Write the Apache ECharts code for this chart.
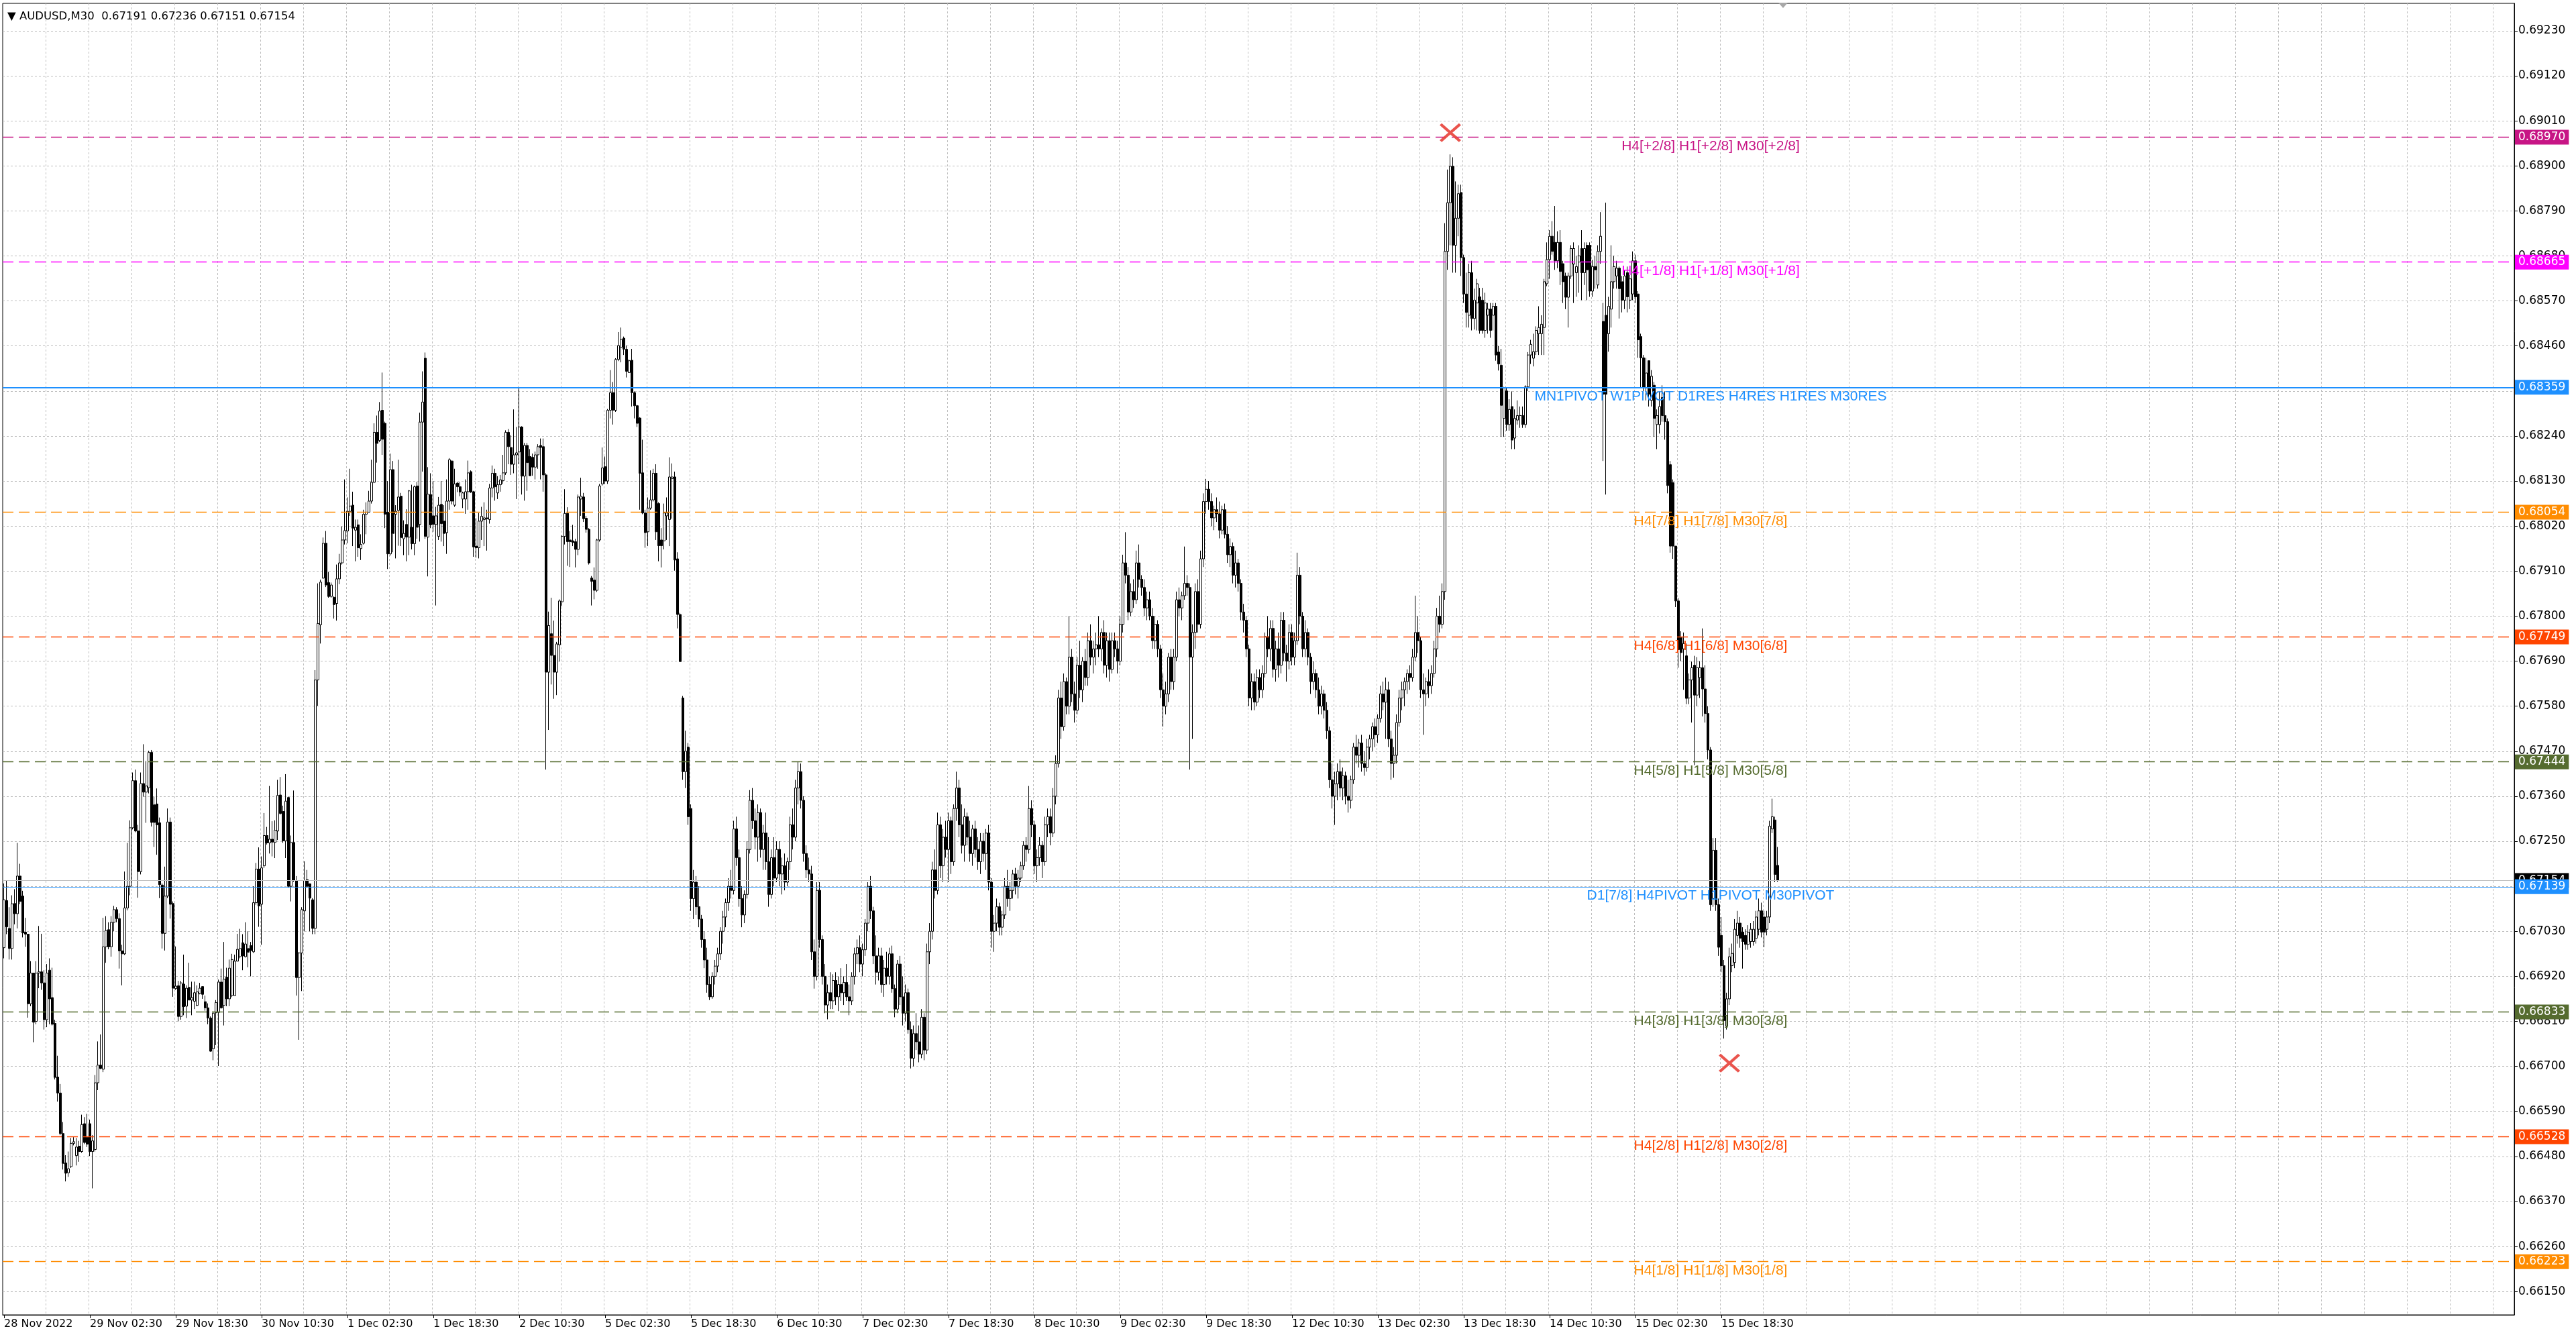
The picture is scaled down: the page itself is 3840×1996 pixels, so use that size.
<!DOCTYPE html>
<html><head><meta charset="utf-8">
<script src="https://cdn.jsdelivr.net/npm/echarts@6/dist/echarts.min.js"></script>
<style>html,body{margin:0;padding:0;background:#fff}#c{width:3840px;height:1996px}</style>
</head><body><div id="c"></div><script>
const symbolName = 'AUDUSD,M30';
const timeLabels = ['28 Nov 2022','29 Nov 02:30','29 Nov 18:30','30 Nov 10:30','1 Dec 02:30','1 Dec 18:30','2 Dec 10:30','5 Dec 02:30','5 Dec 18:30','6 Dec 10:30','7 Dec 02:30','7 Dec 18:30','8 Dec 10:30','9 Dec 02:30','9 Dec 18:30','12 Dec 10:30','13 Dec 02:30','13 Dec 18:30','14 Dec 10:30','15 Dec 02:30','15 Dec 18:30'];
const barsPerLabel = 32;
const barsPerGrid = 16;
const totalSlots = 936;
const priceTicks = [0.66150,0.66260,0.66370,0.66480,0.66590,0.66700,0.66810,0.66920,0.67030,0.67140,0.67250,0.67360,0.67470,0.67580,0.67690,0.67800,0.67910,0.68020,0.68130,0.68240,0.68350,0.68460,0.68570,0.68680,0.68790,0.68900,0.69010,0.69120,0.69230];
const priceLabels = [0.66150,0.66260,0.66370,0.66480,0.66590,0.66700,0.66810,0.66920,0.67030,0.67250,0.67360,0.67470,0.67580,0.67690,0.67800,0.67910,0.68020,0.68130,0.68240,0.68460,0.68570,0.68680,0.68790,0.68900,0.69010,0.69120,0.69230];
const levelPrices = [0.68970,0.68665,0.68359,0.68054,0.67749,0.67444,0.67139,0.66833,0.66528,0.66223];
const levelNames = ['H4[+2/8] H1[+2/8] M30[+2/8]','H4[+1/8] H1[+1/8] M30[+1/8]','MN1PIVOT W1PIVOT D1RES H4RES H1RES M30RES','H4[7/8] H1[7/8] M30[7/8]','H4[6/8] H1[6/8] M30[6/8]','H4[5/8] H1[5/8] M30[5/8]','D1[7/8] H4PIVOT H1PIVOT M30PIVOT','H4[3/8] H1[3/8] M30[3/8]','H4[2/8] H1[2/8] M30[2/8]','H4[1/8] H1[1/8] M30[1/8]'];
const levelColors = ['#C71585','#FF00FF','#1E90FF','#FF8C00','#FF4500','#556B2F','#1E90FF','#556B2F','#FF4500','#FF8C00'];
const levelSolid = [false,false,true,false,false,false,true,false,false,false];
const levelWidths = [1.4,1.4,2,1.4,1.4,1.4,1.2,1.4,1.4,1.4];
const levelTextBar = 636;
const bidPrice = 0.67154;
const crossBars = [539, 643];
const crossPrices = [0.68981, 0.66708];
const shiftMarkBar = 663;
// rows: [open, high, low, close]
const ohlc = [
[0.66990,0.67147,0.66964,0.67107],[0.67105,0.67154,0.67023,0.67041],[0.67037,0.67089,0.66961,0.66988],[0.66988,0.67118,0.66961,0.67097],[0.67098,0.67133,0.67047,0.67073],[0.67073,0.67246,0.67037,0.67165],
[0.67165,0.67195,0.67096,0.67103],[0.67116,0.67129,0.67015,0.67026],[0.67028,0.67063,0.66992,0.67023],[0.67023,0.67023,0.66819,0.66853],[0.66853,0.66957,0.66847,0.66928],[0.66928,0.66928,0.66759,0.66808],
[0.66810,0.66957,0.66803,0.66928],[0.66928,0.67043,0.66891,0.66931],[0.66931,0.67024,0.66887,0.66904],[0.66904,0.66935,0.66790,0.66814],[0.66814,0.66950,0.66796,0.66928],[0.66935,0.66964,0.66803,0.66865],
[0.66868,0.66941,0.66800,0.66803],[0.66805,0.66814,0.66668,0.66673],[0.66674,0.66726,0.66614,0.66635],[0.66635,0.66657,0.66532,0.66536],[0.66536,0.66564,0.66448,0.66463],[0.66464,0.66483,0.66419,0.66439],
[0.66440,0.66492,0.66430,0.66450],[0.66455,0.66525,0.66452,0.66512],[0.66512,0.66527,0.66507,0.66516],[0.66482,0.66525,0.66458,0.66503],[0.66505,0.66518,0.66467,0.66492],[0.66492,0.66582,0.66489,0.66558],
[0.66560,0.66576,0.66510,0.66514],[0.66527,0.66584,0.66503,0.66510],[0.66560,0.66570,0.66481,0.66492],[0.66492,0.66532,0.66402,0.66518],[0.66497,0.66679,0.66492,0.66660],[0.66660,0.66761,0.66642,0.66703],
[0.66703,0.66778,0.66693,0.66695],[0.66693,0.67063,0.66686,0.66992],[0.66992,0.67067,0.66953,0.67032],[0.67034,0.67052,0.66986,0.66992],[0.66992,0.67067,0.66968,0.67052],[0.67052,0.67092,0.67030,0.67083],
[0.67083,0.67089,0.67052,0.67061],[0.67061,0.67074,0.66939,0.66982],[0.66982,0.66997,0.66898,0.66975],[0.66975,0.67176,0.66972,0.67087],[0.67087,0.67246,0.67081,0.67140],[0.67140,0.67301,0.67118,0.67283],
[0.67283,0.67418,0.67279,0.67398],[0.67398,0.67425,0.67272,0.67275],[0.67275,0.67290,0.67112,0.67176],[0.67176,0.67418,0.67169,0.67391],[0.67391,0.67487,0.67359,0.67370],[0.67370,0.67446,0.67295,0.67385],
[0.67381,0.67471,0.67367,0.67467],[0.67467,0.67473,0.67286,0.67296],[0.67339,0.67359,0.67236,0.67296],[0.67341,0.67379,0.67217,0.67290],[0.67295,0.67308,0.67111,0.67144],[0.67143,0.67147,0.66988,0.67025],
[0.67025,0.67188,0.66983,0.67116],[0.67116,0.67330,0.67111,0.67297],[0.67297,0.67308,0.67061,0.67096],[0.67098,0.67103,0.66870,0.66891],[0.66890,0.66993,0.66887,0.66896],[0.66897,0.66909,0.66810,0.66822],
[0.66822,0.66909,0.66814,0.66904],[0.66901,0.66973,0.66825,0.66846],[0.66847,0.66898,0.66818,0.66891],[0.66893,0.66953,0.66862,0.66862],[0.66862,0.66907,0.66825,0.66868],[0.66859,0.66907,0.66840,0.66880],
[0.66849,0.66898,0.66847,0.66882],[0.66878,0.66904,0.66876,0.66891],[0.66895,0.66895,0.66865,0.66876],[0.66858,0.66873,0.66836,0.66843],[0.66843,0.66854,0.66803,0.66818],[0.66818,0.66822,0.66736,0.66737],
[0.66743,0.66834,0.66715,0.66830],[0.66831,0.66862,0.66752,0.66856],[0.66832,0.66912,0.66701,0.66906],[0.66906,0.66939,0.66841,0.66843],[0.66849,0.67004,0.66800,0.66913],[0.66918,0.66941,0.66847,0.66865],
[0.66865,0.66961,0.66847,0.66940],[0.66873,0.66975,0.66869,0.66961],[0.66873,0.66973,0.66873,0.66957],[0.66957,0.67024,0.66957,0.66986],[0.66968,0.67036,0.66964,0.66988],[0.67002,0.67023,0.66935,0.66970],
[0.66968,0.67052,0.66966,0.66999],[0.66988,0.67030,0.66942,0.66979],[0.66995,0.67004,0.66920,0.66983],[0.66980,0.67140,0.66977,0.67100],[0.67100,0.67197,0.67095,0.67182],[0.67182,0.67235,0.67041,0.67092],
[0.67096,0.67213,0.66997,0.67185],[0.67190,0.67319,0.67185,0.67264],[0.67264,0.67285,0.67242,0.67246],[0.67246,0.67385,0.67220,0.67255],[0.67255,0.67299,0.67213,0.67248],[0.67247,0.67301,0.67209,0.67277],
[0.67275,0.67400,0.67253,0.67362],[0.67363,0.67407,0.67315,0.67318],[0.67323,0.67337,0.67246,0.67251],[0.67251,0.67414,0.67209,0.67348],[0.67357,0.67359,0.67136,0.67140],[0.67140,0.67264,0.67103,0.67247],
[0.67247,0.67374,0.67151,0.67154],[0.67154,0.67165,0.66873,0.66917],[0.66917,0.66979,0.66765,0.66977],[0.66977,0.67089,0.66884,0.67083],[0.67080,0.67201,0.67030,0.67154],[0.67156,0.67180,0.67136,0.67140],
[0.67146,0.67147,0.67030,0.67111],[0.67107,0.67111,0.67023,0.67037],[0.67037,0.67668,0.67023,0.67644],[0.67644,0.67880,0.67581,0.67782],[0.67779,0.67889,0.67733,0.67883],[0.67893,0.67992,0.67891,0.67978],
[0.67978,0.68008,0.67871,0.67876],[0.67882,0.67908,0.67845,0.67848],[0.67848,0.67882,0.67845,0.67876],[0.67846,0.67848,0.67794,0.67828],[0.67831,0.67926,0.67789,0.67891],[0.67891,0.67952,0.67878,0.67930],
[0.67930,0.68019,0.67926,0.67986],[0.67986,0.68134,0.67975,0.68009],[0.68008,0.68090,0.67978,0.68056],[0.68056,0.68160,0.68045,0.68069],[0.68071,0.68104,0.67971,0.68015],[0.68010,0.68036,0.67934,0.68017],
[0.68023,0.68036,0.67945,0.67967],[0.67965,0.68000,0.67937,0.67975],[0.67978,0.68060,0.67975,0.68049],[0.68049,0.68078,0.68000,0.68054],[0.68054,0.68106,0.68054,0.68081],[0.68081,0.68182,0.68075,0.68127],
[0.68127,0.68271,0.68125,0.68249],[0.68249,0.68290,0.68175,0.68222],[0.68229,0.68323,0.68225,0.68301],[0.68303,0.68395,0.68194,0.68232],[0.68271,0.68275,0.68015,0.68049],[0.68054,0.68130,0.67915,0.67952],
[0.67952,0.68197,0.67948,0.68158],[0.68158,0.68179,0.67956,0.68002],[0.68049,0.68071,0.67941,0.68056],[0.68058,0.68182,0.67972,0.68091],[0.68093,0.68101,0.67971,0.67992],[0.67989,0.68034,0.67949,0.68002],
[0.68024,0.68061,0.67934,0.67993],[0.67993,0.68108,0.67949,0.68106],[0.68017,0.68121,0.67963,0.67977],[0.67977,0.68119,0.67949,0.68116],[0.68118,0.68128,0.67989,0.68017],[0.68024,0.68297,0.67982,0.68274],
[0.68274,0.68398,0.68153,0.68323],[0.68430,0.68444,0.67989,0.67995],[0.67993,0.68164,0.67897,0.68098],[0.68097,0.68149,0.68015,0.68023],[0.68045,0.68130,0.68006,0.68024],[0.68024,0.68067,0.67826,0.68045],
[0.67995,0.68091,0.67986,0.68071],[0.68073,0.68130,0.67982,0.68026],[0.68032,0.68071,0.67971,0.68002],[0.68004,0.68134,0.67952,0.68081],[0.68081,0.68186,0.68060,0.68182],[0.68179,0.68180,0.68073,0.68081],
[0.68071,0.68160,0.68067,0.68123],[0.68125,0.68127,0.68103,0.68116],[0.68116,0.68127,0.68093,0.68103],[0.68086,0.68104,0.68064,0.68101],[0.68086,0.68134,0.68050,0.68104],[0.68104,0.68180,0.68060,0.68150],
[0.68153,0.68156,0.68101,0.68103],[0.68104,0.68106,0.67945,0.67969],[0.67971,0.68039,0.67943,0.67967],[0.67967,0.68052,0.67941,0.68032],[0.68032,0.68067,0.67986,0.68044],[0.68036,0.68078,0.67971,0.68040],
[0.68040,0.68060,0.67960,0.68038],[0.68036,0.68123,0.68026,0.68113],[0.68113,0.68168,0.68090,0.68149],[0.68149,0.68160,0.68082,0.68116],[0.68101,0.68142,0.68086,0.68121],[0.68121,0.68145,0.68104,0.68133],
[0.68131,0.68194,0.68123,0.68150],[0.68150,0.68254,0.68145,0.68249],[0.68249,0.68257,0.68171,0.68214],[0.68212,0.68242,0.68145,0.68171],[0.68171,0.68305,0.68149,0.68194],[0.68194,0.68262,0.68086,0.68199],
[0.68201,0.68357,0.68171,0.68262],[0.68262,0.68264,0.68097,0.68142],[0.68142,0.68223,0.68082,0.68217],[0.68217,0.68223,0.68106,0.68175],[0.68190,0.68208,0.68143,0.68143],[0.68188,0.68197,0.68143,0.68164],
[0.68164,0.68202,0.68134,0.68194],[0.68194,0.68220,0.68160,0.68214],[0.68217,0.68234,0.68134,0.68212],[0.68214,0.68234,0.68104,0.68145],[0.68145,0.68149,0.67425,0.67663],[0.67663,0.67811,0.67522,0.67777],
[0.67757,0.67845,0.67633,0.67704],[0.67704,0.67789,0.67598,0.67663],[0.67663,0.67737,0.67607,0.67732],[0.67730,0.67841,0.67689,0.67837],[0.67835,0.67997,0.67824,0.67995],[0.67995,0.68110,0.67975,0.68051],
[0.68051,0.68066,0.67923,0.67982],[0.67986,0.68008,0.67920,0.67982],[0.67984,0.68023,0.67971,0.67980],[0.67982,0.67989,0.67919,0.67963],[0.67963,0.68097,0.67949,0.68091],[0.68086,0.68138,0.68045,0.68093],
[0.68091,0.68101,0.68030,0.68038],[0.68039,0.68045,0.68004,0.68012],[0.68012,0.68015,0.67926,0.67930],[0.67893,0.67898,0.67826,0.67885],[0.67888,0.67919,0.67841,0.67863],[0.67863,0.67989,0.67859,0.67986],
[0.67986,0.68123,0.67982,0.68118],[0.68123,0.68212,0.68119,0.68162],[0.68165,0.68190,0.68123,0.68130],[0.68130,0.68306,0.68123,0.68303],[0.68303,0.68401,0.68283,0.68346],[0.68346,0.68372,0.68268,0.68303],
[0.68303,0.68430,0.68299,0.68427],[0.68427,0.68494,0.68423,0.68461],[0.68457,0.68505,0.68420,0.68476],[0.68479,0.68483,0.68438,0.68452],[0.68452,0.68461,0.68383,0.68398],[0.68395,0.68427,0.68394,0.68424],
[0.68425,0.68453,0.68312,0.68346],[0.68346,0.68349,0.68283,0.68314],[0.68314,0.68316,0.68262,0.68271],[0.68284,0.68286,0.68060,0.68149],[0.68150,0.68231,0.68049,0.68052],[0.68052,0.68060,0.67967,0.68004],
[0.68006,0.68090,0.67971,0.68064],[0.68064,0.68156,0.68060,0.68084],[0.68084,0.68160,0.68080,0.68149],[0.68149,0.68171,0.67986,0.68006],[0.68075,0.68078,0.67934,0.67972],[0.67986,0.68015,0.67919,0.67972],
[0.67984,0.68075,0.67963,0.68052],[0.68045,0.68090,0.67986,0.68052],[0.68036,0.68188,0.67971,0.68140],[0.68136,0.68173,0.68038,0.68140],[0.68140,0.68153,0.67911,0.67937],[0.67940,0.67956,0.67770,0.67804],
[0.67804,0.67808,0.67689,0.67689],[0.67600,0.67605,0.67400,0.67420],[0.67420,0.67520,0.67380,0.67470],[0.67480,0.67490,0.67290,0.67310],[0.67330,0.67340,0.67080,0.67110],[0.67110,0.67180,0.67060,0.67150],
[0.67150,0.67165,0.67070,0.67090],[0.67090,0.67140,0.67040,0.67060],[0.67060,0.67070,0.66990,0.67010],[0.67010,0.67030,0.66940,0.66960],[0.66960,0.66990,0.66880,0.66900],[0.66900,0.66920,0.66862,0.66870],
[0.66870,0.66930,0.66865,0.66920],[0.66920,0.66960,0.66900,0.66945],[0.66945,0.66990,0.66930,0.66975],[0.66975,0.67040,0.66960,0.67030],[0.67030,0.67080,0.67000,0.67065],[0.67065,0.67110,0.67040,0.67100],
[0.67100,0.67160,0.67080,0.67140],[0.67140,0.67180,0.67110,0.67130],[0.67130,0.67300,0.67120,0.67280],[0.67280,0.67310,0.67190,0.67210],[0.67210,0.67230,0.67090,0.67110],[0.67110,0.67140,0.67040,0.67070],
[0.67070,0.67130,0.67050,0.67120],[0.67120,0.67250,0.67110,0.67230],[0.67230,0.67375,0.67220,0.67350],[0.67350,0.67380,0.67280,0.67300],[0.67300,0.67330,0.67230,0.67260],[0.67260,0.67340,0.67200,0.67320],
[0.67320,0.67330,0.67210,0.67230],[0.67230,0.67290,0.67180,0.67270],[0.67270,0.67320,0.67180,0.67200],[0.67200,0.67260,0.67090,0.67120],[0.67120,0.67230,0.67110,0.67210],[0.67210,0.67260,0.67140,0.67160],
[0.67160,0.67250,0.67150,0.67230],[0.67230,0.67250,0.67140,0.67170],[0.67170,0.67210,0.67120,0.67190],[0.67190,0.67220,0.67130,0.67150],[0.67150,0.67210,0.67140,0.67200],[0.67200,0.67310,0.67180,0.67290],
[0.67290,0.67330,0.67230,0.67260],[0.67260,0.67400,0.67250,0.67380],[0.67380,0.67445,0.67340,0.67420],[0.67420,0.67440,0.67330,0.67350],[0.67350,0.67360,0.67200,0.67220],[0.67220,0.67240,0.67160,0.67180],
[0.67180,0.67210,0.67150,0.67170],[0.67170,0.67190,0.66960,0.66980],[0.66980,0.67010,0.66890,0.66920],[0.66920,0.67150,0.66910,0.67130],[0.67130,0.67150,0.66990,0.67010],[0.67010,0.67020,0.66900,0.66920],
[0.66920,0.66950,0.66830,0.66850],[0.66850,0.66900,0.66815,0.66880],[0.66880,0.66930,0.66840,0.66860],[0.66860,0.66925,0.66840,0.66910],[0.66910,0.66930,0.66850,0.66870],[0.66870,0.66920,0.66835,0.66900],
[0.66900,0.66940,0.66860,0.66880],[0.66880,0.66920,0.66850,0.66905],[0.66905,0.66950,0.66860,0.66870],[0.66870,0.66900,0.66825,0.66860],[0.66860,0.66930,0.66850,0.66920],[0.66920,0.66990,0.66900,0.66975],
[0.66975,0.67010,0.66950,0.66990],[0.66990,0.67020,0.66930,0.66950],[0.66950,0.67000,0.66920,0.66985],[0.66985,0.67060,0.66970,0.67050],[0.67050,0.67150,0.67030,0.67140],[0.67140,0.67165,0.67060,0.67080],
[0.67080,0.67090,0.66950,0.66970],[0.66970,0.67020,0.66900,0.66930],[0.66930,0.66990,0.66910,0.66970],[0.66970,0.66990,0.66880,0.66900],[0.66900,0.66960,0.66870,0.66940],[0.66940,0.66980,0.66900,0.66920],
[0.66920,0.66990,0.66900,0.66975],[0.66975,0.66995,0.66880,0.66890],[0.66890,0.66900,0.66820,0.66840],[0.66840,0.66960,0.66830,0.66950],[0.66950,0.66970,0.66850,0.66870],[0.66870,0.66920,0.66800,0.66830],
[0.66830,0.66900,0.66810,0.66880],[0.66880,0.66890,0.66780,0.66790],[0.66790,0.66810,0.66695,0.66720],[0.66720,0.66800,0.66700,0.66780],[0.66780,0.66830,0.66740,0.66760],[0.66760,0.66800,0.66710,0.66730],
[0.66730,0.66840,0.66720,0.66820],[0.66820,0.66830,0.66715,0.66740],[0.66740,0.67000,0.66730,0.66980],[0.66980,0.67050,0.66950,0.67030],[0.67030,0.67200,0.67010,0.67180],[0.67180,0.67230,0.67110,0.67130],
[0.67130,0.67320,0.67120,0.67290],[0.67290,0.67310,0.67160,0.67190],[0.67190,0.67280,0.67150,0.67260],[0.67260,0.67300,0.67210,0.67230],[0.67230,0.67320,0.67150,0.67300],[0.67300,0.67310,0.67170,0.67200],
[0.67200,0.67340,0.67190,0.67330],[0.67330,0.67420,0.67300,0.67380],[0.67380,0.67400,0.67260,0.67290],[0.67290,0.67340,0.67220,0.67240],[0.67240,0.67330,0.67200,0.67310],[0.67310,0.67320,0.67240,0.67260],
[0.67260,0.67300,0.67200,0.67220],[0.67220,0.67290,0.67190,0.67280],[0.67280,0.67300,0.67210,0.67230],[0.67230,0.67260,0.67180,0.67200],[0.67200,0.67270,0.67170,0.67250],[0.67250,0.67270,0.67200,0.67220],
[0.67220,0.67280,0.67180,0.67270],[0.67270,0.67290,0.67130,0.67150],[0.67150,0.67160,0.66990,0.67030],[0.67030,0.67070,0.66980,0.67050],[0.67050,0.67110,0.67030,0.67090],[0.67090,0.67100,0.67020,0.67040],
[0.67040,0.67080,0.67020,0.67070],[0.67070,0.67160,0.67060,0.67140],[0.67140,0.67180,0.67090,0.67110],[0.67110,0.67150,0.67080,0.67130],[0.67130,0.67180,0.67110,0.67170],[0.67170,0.67185,0.67120,0.67140],
[0.67140,0.67180,0.67110,0.67160],[0.67160,0.67200,0.67150,0.67190],[0.67190,0.67250,0.67180,0.67240],[0.67240,0.67260,0.67200,0.67230],[0.67230,0.67385,0.67220,0.67330],[0.67330,0.67350,0.67260,0.67290],
[0.67290,0.67300,0.67170,0.67190],[0.67190,0.67230,0.67150,0.67210],[0.67210,0.67260,0.67190,0.67240],[0.67240,0.67250,0.67160,0.67200],[0.67200,0.67310,0.67190,0.67290],[0.67290,0.67330,0.67260,0.67310],
[0.67310,0.67330,0.67240,0.67270],[0.67270,0.67380,0.67260,0.67360],[0.67360,0.67460,0.67340,0.67440],[0.67440,0.67620,0.67430,0.67600],[0.67600,0.67640,0.67500,0.67530],[0.67530,0.67660,0.67520,0.67640],
[0.67640,0.67650,0.67560,0.67580],[0.67580,0.67800,0.67560,0.67700],[0.67700,0.67720,0.67590,0.67610],[0.67610,0.67640,0.67540,0.67570],[0.67570,0.67700,0.67560,0.67680],[0.67680,0.67740,0.67600,0.67620],
[0.67620,0.67700,0.67590,0.67690],[0.67690,0.67720,0.67630,0.67650],[0.67650,0.67760,0.67630,0.67740],[0.67740,0.67780,0.67680,0.67700],[0.67700,0.67740,0.67660,0.67720],[0.67720,0.67760,0.67680,0.67730],
[0.67730,0.67800,0.67700,0.67720],[0.67720,0.67770,0.67690,0.67760],[0.67760,0.67790,0.67660,0.67680],[0.67680,0.67760,0.67650,0.67740],[0.67740,0.67760,0.67640,0.67670],[0.67670,0.67760,0.67660,0.67740],
[0.67740,0.67760,0.67700,0.67720],[0.67720,0.67740,0.67660,0.67690],[0.67690,0.67800,0.67680,0.67780],[0.67780,0.67950,0.67760,0.67930],[0.67930,0.68005,0.67880,0.67900],[0.67900,0.67920,0.67790,0.67810],
[0.67810,0.67880,0.67800,0.67860],[0.67860,0.67890,0.67820,0.67840],[0.67840,0.67960,0.67830,0.67930],[0.67930,0.67975,0.67870,0.67890],[0.67890,0.67900,0.67850,0.67870],[0.67870,0.67890,0.67800,0.67820],
[0.67820,0.67860,0.67790,0.67840],[0.67840,0.67860,0.67790,0.67800],[0.67800,0.67820,0.67720,0.67740],[0.67740,0.67800,0.67720,0.67780],[0.67780,0.67790,0.67700,0.67720],[0.67720,0.67730,0.67600,0.67620],
[0.67620,0.67660,0.67530,0.67580],[0.67580,0.67640,0.67560,0.67610],[0.67610,0.67710,0.67590,0.67700],[0.67700,0.67720,0.67620,0.67640],[0.67640,0.67720,0.67620,0.67700],[0.67700,0.67860,0.67690,0.67840],
[0.67840,0.67870,0.67800,0.67820],[0.67820,0.67860,0.67790,0.67850],[0.67850,0.67970,0.67840,0.67880],[0.67880,0.67900,0.67850,0.67870],[0.67870,0.67880,0.67425,0.67700],[0.67700,0.67780,0.67500,0.67760],
[0.67760,0.67880,0.67720,0.67860],[0.67860,0.67890,0.67760,0.67780],[0.67780,0.67960,0.67770,0.67940],[0.67940,0.68100,0.67920,0.68080],[0.68080,0.68135,0.68050,0.68110],[0.68110,0.68130,0.68060,0.68080],
[0.68080,0.68100,0.68020,0.68040],[0.68040,0.68070,0.68010,0.68060],[0.68060,0.68090,0.68030,0.68050],[0.68050,0.68080,0.67990,0.68010],[0.68010,0.68070,0.68000,0.68060],[0.68060,0.68075,0.67990,0.68000],
[0.68000,0.68020,0.67930,0.67950],[0.67950,0.67990,0.67920,0.67970],[0.67970,0.67980,0.67880,0.67900],[0.67900,0.67960,0.67870,0.67930],[0.67930,0.67940,0.67860,0.67880],[0.67880,0.67890,0.67790,0.67810],
[0.67810,0.67830,0.67760,0.67790],[0.67790,0.67800,0.67700,0.67720],[0.67720,0.67730,0.67580,0.67600],[0.67600,0.67660,0.67570,0.67640],[0.67640,0.67660,0.67570,0.67590],[0.67590,0.67670,0.67580,0.67650],
[0.67650,0.67670,0.67600,0.67620],[0.67620,0.67680,0.67600,0.67660],[0.67660,0.67760,0.67650,0.67750],[0.67750,0.67800,0.67700,0.67720],[0.67720,0.67790,0.67690,0.67770],[0.67770,0.67790,0.67650,0.67670],
[0.67670,0.67740,0.67640,0.67720],[0.67720,0.67760,0.67650,0.67680],[0.67680,0.67810,0.67660,0.67790],[0.67790,0.67810,0.67690,0.67710],[0.67710,0.67730,0.67640,0.67690],[0.67690,0.67780,0.67670,0.67760],
[0.67760,0.67780,0.67680,0.67700],[0.67700,0.67760,0.67680,0.67740],[0.67740,0.67955,0.67730,0.67900],[0.67900,0.67920,0.67780,0.67800],[0.67800,0.67810,0.67700,0.67720],[0.67720,0.67790,0.67700,0.67760],
[0.67760,0.67770,0.67680,0.67700],[0.67700,0.67710,0.67610,0.67640],[0.67640,0.67690,0.67620,0.67660],[0.67660,0.67670,0.67600,0.67620],[0.67620,0.67650,0.67560,0.67580],[0.67580,0.67630,0.67560,0.67610],
[0.67610,0.67620,0.67550,0.67570],[0.67570,0.67590,0.67500,0.67520],[0.67520,0.67530,0.67380,0.67400],[0.67400,0.67440,0.67330,0.67360],[0.67360,0.67420,0.67290,0.67390],[0.67390,0.67440,0.67350,0.67420],
[0.67420,0.67450,0.67360,0.67380],[0.67380,0.67430,0.67350,0.67410],[0.67410,0.67420,0.67340,0.67360],[0.67360,0.67400,0.67320,0.67350],[0.67350,0.67410,0.67330,0.67400],[0.67400,0.67490,0.67390,0.67480],
[0.67480,0.67510,0.67440,0.67460],[0.67460,0.67500,0.67430,0.67490],[0.67490,0.67510,0.67420,0.67440],[0.67440,0.67470,0.67410,0.67430],[0.67430,0.67500,0.67420,0.67480],[0.67480,0.67510,0.67450,0.67500],
[0.67500,0.67540,0.67470,0.67530],[0.67530,0.67550,0.67480,0.67510],[0.67510,0.67560,0.67490,0.67550],[0.67550,0.67630,0.67540,0.67610],[0.67610,0.67640,0.67570,0.67590],[0.67590,0.67650,0.67500,0.67620],
[0.67620,0.67640,0.67480,0.67500],[0.67500,0.67520,0.67400,0.67440],[0.67440,0.67480,0.67405,0.67460],[0.67460,0.67560,0.67440,0.67540],[0.67540,0.67620,0.67530,0.67600],[0.67600,0.67640,0.67570,0.67620],
[0.67620,0.67650,0.67580,0.67640],[0.67640,0.67670,0.67610,0.67660],[0.67660,0.67680,0.67620,0.67650],[0.67650,0.67720,0.67640,0.67700],[0.67700,0.67850,0.67690,0.67760],[0.67760,0.67800,0.67710,0.67740],
[0.67740,0.67750,0.67600,0.67620],[0.67620,0.67660,0.67510,0.67610],[0.67610,0.67650,0.67580,0.67640],[0.67640,0.67670,0.67600,0.67630],[0.67630,0.67680,0.67610,0.67660],[0.67660,0.67740,0.67650,0.67720],
[0.67720,0.67820,0.67700,0.67800],[0.67800,0.67850,0.67760,0.67780],[0.67780,0.67880,0.67770,0.67860],[0.67860,0.68760,0.67840,0.68691],[0.68691,0.68891,0.68646,0.68810],[0.68810,0.68928,0.68706,0.68899],
[0.68899,0.68921,0.68639,0.68706],[0.68706,0.68862,0.68639,0.68772],[0.68772,0.68854,0.68728,0.68832],[0.68835,0.68854,0.68631,0.68676],[0.68676,0.68683,0.68565,0.68587],[0.68587,0.68639,0.68505,0.68542],
[0.68535,0.68661,0.68505,0.68639],[0.68639,0.68668,0.68498,0.68527],[0.68527,0.68600,0.68500,0.68572],[0.68565,0.68624,0.68498,0.68612],[0.68580,0.68602,0.68490,0.68498],[0.68572,0.68602,0.68490,0.68498],
[0.68498,0.68590,0.68480,0.68565],[0.68535,0.68565,0.68490,0.68550],[0.68550,0.68565,0.68480,0.68498],[0.68535,0.68565,0.68498,0.68557],[0.68557,0.68565,0.68424,0.68438],[0.68445,0.68460,0.68400,0.68416],
[0.68413,0.68453,0.68238,0.68315],[0.68283,0.68360,0.68238,0.68357],[0.68350,0.68357,0.68253,0.68268],[0.68268,0.68330,0.68253,0.68305],[0.68312,0.68349,0.68208,0.68230],[0.68235,0.68305,0.68208,0.68283],
[0.68279,0.68327,0.68268,0.68290],[0.68290,0.68312,0.68260,0.68290],[0.68290,0.68312,0.68260,0.68268],[0.68268,0.68364,0.68260,0.68360],[0.68360,0.68445,0.68350,0.68438],[0.68438,0.68475,0.68416,0.68464],
[0.68430,0.68490,0.68410,0.68446],[0.68446,0.68508,0.68438,0.68498],[0.68490,0.68557,0.68438,0.68505],[0.68490,0.68535,0.68438,0.68513],[0.68505,0.68624,0.68438,0.68617],[0.68612,0.68713,0.68606,0.68671],
[0.68671,0.68743,0.68624,0.68728],[0.68728,0.68765,0.68683,0.68691],[0.68713,0.68802,0.68646,0.68668],[0.68668,0.68740,0.68650,0.68713],[0.68713,0.68743,0.68609,0.68642],[0.68661,0.68668,0.68565,0.68617],
[0.68631,0.68639,0.68550,0.68579],[0.68579,0.68639,0.68505,0.68631],[0.68631,0.68706,0.68624,0.68698],[0.68660,0.68713,0.68565,0.68698],[0.68639,0.68680,0.68580,0.68654],[0.68665,0.68706,0.68590,0.68680],
[0.68698,0.68743,0.68572,0.68639],[0.68639,0.68713,0.68609,0.68698],[0.68706,0.68713,0.68572,0.68646],[0.68706,0.68713,0.68580,0.68594],[0.68594,0.68670,0.68580,0.68654],[0.68654,0.68680,0.68600,0.68646],
[0.68609,0.68706,0.68600,0.68691],[0.68691,0.68787,0.68661,0.68728],[0.68520,0.68565,0.68179,0.68342],[0.68535,0.68810,0.68097,0.68342],[0.68490,0.68580,0.68446,0.68557],[0.68550,0.68706,0.68505,0.68617],
[0.68617,0.68680,0.68600,0.68654],[0.68631,0.68668,0.68600,0.68650],[0.68650,0.68654,0.68527,0.68600],[0.68617,0.68631,0.68542,0.68572],[0.68572,0.68646,0.68550,0.68631],[0.68639,0.68654,0.68542,0.68580],
[0.68572,0.68646,0.68550,0.68624],[0.68587,0.68691,0.68572,0.68668],[0.68668,0.68683,0.68565,0.68580],[0.68587,0.68594,0.68431,0.68475],[0.68483,0.68490,0.68357,0.68431],[0.68431,0.68438,0.68342,0.68357],
[0.68357,0.68431,0.68327,0.68394],[0.68424,0.68424,0.68312,0.68342],[0.68327,0.68401,0.68312,0.68386],[0.68364,0.68372,0.68238,0.68283],[0.68268,0.68305,0.68208,0.68290],[0.68268,0.68349,0.68246,0.68312],
[0.68334,0.68364,0.68275,0.68290],[0.68290,0.68349,0.68231,0.68275],[0.68275,0.68283,0.68100,0.68119],[0.68170,0.68179,0.67955,0.67971],[0.68126,0.68134,0.67940,0.67971],[0.67971,0.67971,0.67822,0.67837],
[0.67837,0.67844,0.67674,0.67718],[0.67748,0.67763,0.67690,0.67711],[0.67720,0.67760,0.67620,0.67733],[0.67703,0.67733,0.67585,0.67599],[0.67600,0.67660,0.67585,0.67644],[0.67644,0.67689,0.67540,0.67674],
[0.67680,0.67703,0.67436,0.67607],[0.67607,0.67700,0.67580,0.67674],[0.67650,0.67690,0.67600,0.67674],[0.67674,0.67770,0.67555,0.67622],[0.67622,0.67680,0.67540,0.67562],[0.67562,0.67580,0.67450,0.67473],
[0.67473,0.67480,0.67080,0.67095],[0.67110,0.67258,0.67090,0.67228],[0.67228,0.67258,0.67080,0.67095],[0.67095,0.67110,0.66970,0.66991],[0.67020,0.67065,0.66930,0.66946],[0.66946,0.66960,0.66768,0.66812],
[0.66798,0.66880,0.66790,0.66865],[0.66865,0.66990,0.66850,0.66968],[0.66946,0.67000,0.66930,0.66976],[0.66954,0.67060,0.66940,0.67035],[0.67020,0.67080,0.67000,0.67050],[0.67050,0.67065,0.66990,0.67013],
[0.67028,0.67040,0.66939,0.67005],[0.67020,0.67035,0.66985,0.66998],[0.66998,0.67045,0.66985,0.67028],[0.67005,0.67050,0.66990,0.67035],[0.67005,0.67055,0.66995,0.67035],[0.67013,0.67080,0.67000,0.67065],
[0.67035,0.67110,0.67020,0.67080],[0.67080,0.67100,0.67015,0.67028],[0.67065,0.67080,0.66991,0.67028],[0.67035,0.67080,0.67020,0.67065],[0.67065,0.67300,0.67050,0.67287],[0.67280,0.67354,0.67270,0.67310],
[0.67302,0.67310,0.67150,0.67169],[0.67191,0.67236,0.67151,0.67154]
];

const chart = echarts.init(document.getElementById('c'), null, {renderer: 'canvas'});
const categories = [];
for (let i = 0; i < totalSlots; i++) categories.push(String(i));
const candleData = ohlc.map(r => [r[0], r[3], r[2], r[1]]);
const last = ohlc[ohlc.length - 1];
const FONT = 'DejaVu Sans';
const Y_MIN = 0.66093, Y_MAX = 0.69297;

const markLines = [{
  yAxis: bidPrice,
  lineStyle: {color: '#C0C0C0', type: 'solid', width: 1, opacity: 1},
  label: {show: true, position: 'end', distance: 1, formatter: bidPrice.toFixed(5), color: '#fff', backgroundColor: '#000', padding: [3,5,2,5], fontSize: 17, fontFamily: FONT}
}];
const markPoints = [];
levelPrices.forEach((p, i) => {
  markLines.push({
    yAxis: p,
    lineStyle: {color: levelColors[i], type: levelSolid[i] ? 'solid' : [16, 8], width: levelWidths[i], opacity: 1},
    label: {show: true, position: 'end', distance: 1, formatter: p.toFixed(5), color: '#fff', backgroundColor: levelColors[i], padding: [3,5,2,5], fontSize: 17, fontFamily: FONT}
  });
  markPoints.push({
    coord: [levelTextBar, p], symbol: 'rect', symbolSize: 0,
    label: {show: true, position: 'bottom', distance: 3, formatter: levelNames[i], color: levelColors[i], fontSize: 21, fontFamily: 'Liberation Sans'}
  });
});
markPoints.push({
  coord: [shiftMarkBar, Y_MAX], symbol: 'triangle', symbolRotate: 180, symbolSize: [14, 8], symbolOffset: [0, 3],
  itemStyle: {color: '#A8A8A8'}, label: {show: false}
});

const crossPath = 'path://M0,2 L2,0 L10,8 L18,0 L20,2 L12,10 L20,18 L18,20 L10,12 L2,20 L0,18 L8,10 Z';

chart.setOption({
  animation: false,
  backgroundColor: '#ffffff',
  title: {
    text: '\u25BC ' + symbolName + '  ' + last.map(v => v.toFixed(5)).join(' '),
    left: 6, top: 11,
    textStyle: {fontSize: 16.5, fontWeight: 'normal', color: '#000', fontFamily: FONT}
  },
  grid: {left: 4, right: 92, top: 5, bottom: 36, show: true, borderColor: '#000', borderWidth: 1, backgroundColor: '#fff'},
  xAxis: {
    type: 'category', data: categories, boundaryGap: true,
    axisLine: {show: true, lineStyle: {color: '#000', width: 1}},
    axisTick: {show: true, length: 5, alignWithLabel: true, lineStyle: {color: '#000'},
      interval: (idx) => idx % barsPerLabel === 0 && idx / barsPerLabel < timeLabels.length},
    axisLabel: {
      interval: (idx) => idx % barsPerLabel === 0 && idx / barsPerLabel < timeLabels.length,
      formatter: (v, idx) => timeLabels[Math.round(idx / barsPerLabel)] || '',
      align: 'left', fontSize: 16, color: '#000', margin: 6, fontFamily: FONT
    },
    splitLine: {show: true, interval: (idx) => idx % barsPerGrid === 0 && idx > 0,
      lineStyle: {color: '#bdbdbd', type: [3, 3], width: 1}}
  },
  yAxis: {
    type: 'value', position: 'right', min: Y_MIN, max: Y_MAX, scale: true,
    axisLine: {show: true, lineStyle: {color: '#000'}},
    axisTick: {show: true, length: 5, customValues: priceTicks, lineStyle: {color: '#000'}},
    axisLabel: {customValues: priceLabels, formatter: v => v.toFixed(5), fontSize: 17, color: '#000', margin: 6, fontFamily: FONT},
    splitLine: {show: true, lineStyle: {color: '#bdbdbd', type: [3, 3], width: 1}}
  },
  series: [{
    type: 'line', name: 'levels', data: [], z: 1, silent: true, showSymbol: false,
    markLine: {silent: true, symbol: ['none', 'none'], animation: false, precision: 5, data: markLines},
    markPoint: {silent: true, animation: false, data: markPoints}
  }, {
    type: 'candlestick', name: symbolName, data: candleData, barWidth: 3, large: false, z: 3,
    itemStyle: {color: '#ffffff', color0: '#000000', borderColor: '#000000', borderColor0: '#000000', borderWidth: 1}
  }, {
    type: 'scatter', name: 'fractal', z: 5,
    data: crossBars.map((b, i) => [b, crossPrices[i]]),
    symbol: crossPath, symbolSize: [32, 28],
    itemStyle: {color: '#E8453E', opacity: 0.92}
  }]
});
</script></body></html>
